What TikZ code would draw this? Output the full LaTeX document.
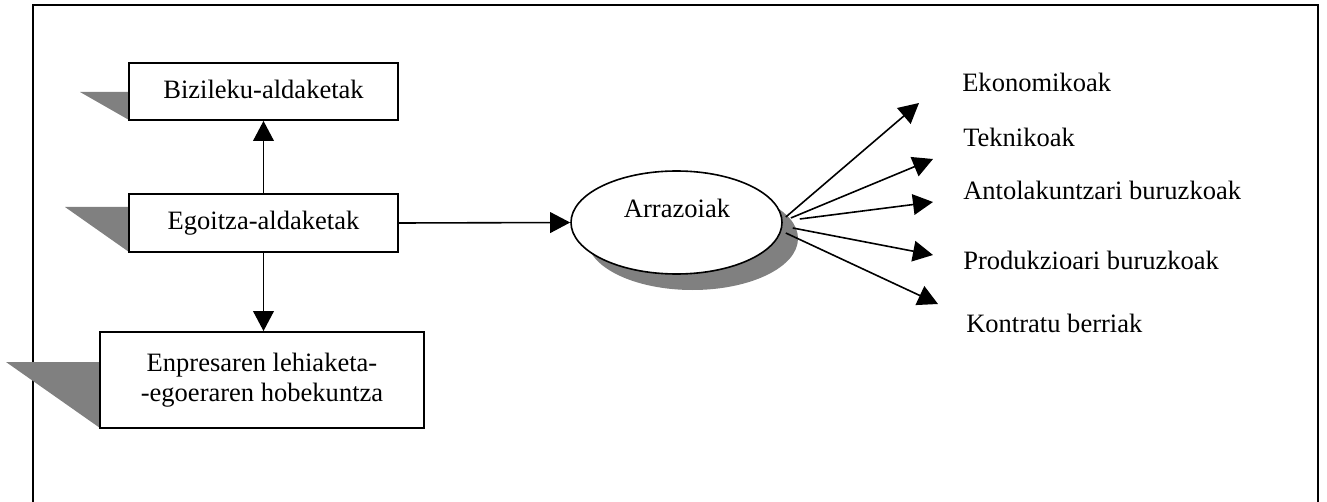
\documentclass[tikz,border=0pt]{standalone}
\usepackage{fontspec}
\setmainfont{Liberation Serif}
\usetikzlibrary{arrows.meta,shapes.geometric}
\definecolor{shadowgrey}{HTML}{808080}
\begin{document}
\begin{tikzpicture}[x=0.75pt,y=-0.75pt,
  every node/.style={font=\fontsize{19.9pt}{22pt}\selectfont},
  boxframe/.style={draw,line width=1.4pt,fill=white,inner sep=0pt},
  box/.style={boxframe,text height=14pt,text depth=3.5pt},
  conn/.style={line width=1.2pt,-{Triangle[length=15pt,width=15.5pt]}},
  lbl/.style={anchor=base west,inner sep=0pt}]
\useasboundingbox (0,0) rectangle (1327,502);

% outer frame
\draw[line width=1.4pt] (33,503) -- (33,5) -- (1318,5) -- (1318,503);

% wedge shadows behind the boxes
\fill[shadowgrey] (80,92) -- (129,92) -- (129,120) -- cycle;
\fill[shadowgrey] (65,207) -- (129,207) -- (129,252) -- cycle;
\fill[shadowgrey] (6,362) -- (100,362) -- (100,428) -- cycle;

% boxes
\node[box,minimum width=201.75pt,minimum height=42.75pt] (b1) at (263.5,91.5) {Bizileku-aldaketak};
\node[box,minimum width=201.75pt,minimum height=43.5pt] (b2) at (263.5,223) {Egoitza-aldaketak};
\node[boxframe,minimum width=243pt,minimum height=72pt,align=center] (b3) at (262,380)
  {Enpresaren lehiaketa-\\-egoeraren hobekuntza};

% ellipse with its shadow
\fill[shadowgrey] (692.5,238.5) ellipse [x radius=105.5,y radius=51.5];
\node[ellipse,draw,line width=1.2pt,fill=white,minimum width=158.25pt,
  minimum height=77.25pt,inner sep=0pt] (arr) at (676.5,222.5) {};
\node[anchor=base,inner sep=0pt] (arrtxt) at (677,218) {Arrazoiak};

% connectors on the left
\draw[conn] (b2.north) -- (b1.south);
\draw[conn] (b2.south) -- (b2.south |- b3.north);
\draw[conn] (b2.east) -- (arr.west);

% reasons
\node[lbl] (l1) at (962,92) {Ekonomikoak};
\node[lbl] (l2) at (963,147) {Teknikoak};
\node[lbl] (l3) at (963,200) {Antolakuntzari buruzkoak};
\node[lbl] (l4) at (963,270) {Produkzioari buruzkoak};
\node[lbl] (l5) at (966,332) {Kontratu berriak};

\coordinate (f1) at ([shift={(3,-5.5)}]arr.east);
\coordinate (f2) at ([shift={(8,-4.5)}]arr.east);
\coordinate (f3) at ([shift={(17,-3.5)}]arr.east);
\coordinate (f4) at ([shift={(10,5.5)}]arr.east);
\coordinate (f5) at ([shift={(3,10.5)}]arr.east);

\coordinate (t1) at (919,103);
\coordinate (t2) at (933,159);
\coordinate (t3) at (933,202);
\coordinate (t4) at (933,255);
\coordinate (t5) at (938,304);

\foreach \i in {1,...,5} \draw[conn] (f\i) -- (t\i);
\end{tikzpicture}
\end{document}
